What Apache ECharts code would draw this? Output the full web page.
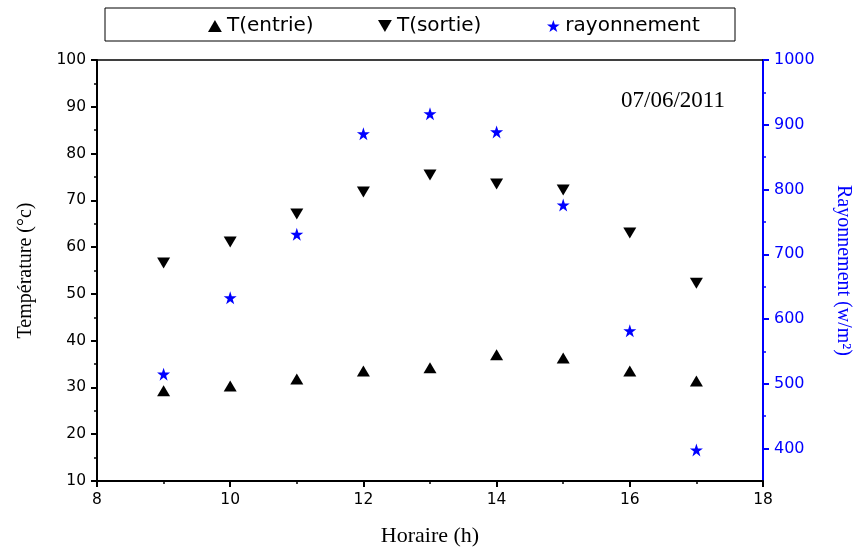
<!DOCTYPE html>
<html><head><meta charset="utf-8">
<script src="https://cdn.jsdelivr.net/npm/echarts@6/dist/echarts.min.js"></script>
<style>html,body{margin:0;padding:0;background:#fff}#c{width:857px;height:549px}</style>
</head><body><div id="c"></div>
<script>
var hours = [9, 10, 11, 12, 13, 14, 15, 16, 17];
var tEntrie = [29.3, 30.3, 31.8, 33.5, 34.2, 37.0, 36.3, 33.5, 31.4];
var tSortie = [56.6, 61.1, 67.1, 71.8, 75.4, 73.5, 72.2, 63.0, 52.3];
var rayonnement = [515, 633, 731, 886, 917, 889, 776, 582, 398];
var rightMajor = [400, 500, 600, 700, 800, 900, 1000];
var rightMinor = [450, 550, 650, 750, 850, 950];

function pairs(xs, ys){ return xs.map(function(x,i){ return [x, ys[i]]; }); }

var UP = 'path://M5,0 L10,8.66 L0,8.66 Z';
var DOWN = 'path://M0,0 L10,0 L5,8.66 Z';
var STAR = 'path://M50,0 L61.8,35.4 L99,35.4 L69,57.3 L80.4,92.7 L50,70.8 L19.6,92.7 L31,57.3 L1,35.4 L38.2,35.4 Z';

var chart = echarts.init(document.getElementById('c'));
var sans = 'DejaVu Sans, Liberation Sans, Arial';
var serif = 'Liberation Serif, Times New Roman';
var labelFont = {fontFamily: sans, fontSize: 15.5, color: '#000'};
var legendText = {fontFamily: sans, fontSize: 20, color: '#000'};
function leg(name, left){
  return {left: left, top: 11, itemWidth: 14, itemHeight: 12, textStyle: legendText, data: [name]};
}
chart.setOption({
  animation: false,
  grid: {left: 97, right: 94, top: 60, bottom: 68, show: false, containLabel: false, outerBoundsMode: 'none'},
  graphic: [{type: 'rect', shape: {x: 105, y: 8, width: 630, height: 33}, style: {fill: 'none', stroke: '#000', lineWidth: 1}}],
  legend: [leg('T(entrie)', 203), leg('T(sortie)', 373), leg('rayonnement', 542)],
  xAxis: [{
    type: 'value', min: 8, max: 18, interval: 2, position: 'bottom',
    name: 'Horaire (h)', nameLocation: 'middle', nameGap: 44,
    nameTextStyle: {fontFamily: serif, fontSize: 22, color: '#000'},
    axisLine: {show: true, lineStyle: {color: '#000', width: 2}},
    axisTick: {show: true, inside: false, length: 6, lineStyle: {color: '#000', width: 2}},
    minorTick: {show: true, splitNumber: 2, length: 3, lineStyle: {color: '#000', width: 1.5}},
    axisLabel: Object.assign({margin: 11}, labelFont),
    splitLine: {show: false}
  }, {
    type: 'value', min: 8, max: 18, position: 'top',
    axisLine: {show: true, onZero: false, lineStyle: {color: '#000', width: 1.5}},
    axisTick: {show: false}, axisLabel: {show: false}, splitLine: {show: false}
  }],
  yAxis: [{
    type: 'value', min: 10, max: 100, interval: 10, position: 'left',
    name: 'Température (°c)', nameLocation: 'middle', nameGap: 61, nameRotate: 90,
    nameTextStyle: {fontFamily: serif, fontSize: 20, color: '#000'},
    axisLine: {show: true, lineStyle: {color: '#000', width: 2}},
    axisTick: {show: true, inside: false, length: 6, lineStyle: {color: '#000', width: 2}},
    minorTick: {show: true, splitNumber: 2, length: 3, lineStyle: {color: '#000', width: 1.5}},
    axisLabel: Object.assign({margin: 11}, labelFont),
    splitLine: {show: false}
  }, {
    type: 'value', min: 350, max: 1000, interval: 50, position: 'right',
    name: 'Rayonnement (w/m²)', nameLocation: 'middle', nameGap: 70, nameRotate: -90,
    nameTextStyle: {fontFamily: serif, fontSize: 20, color: '#0000ff'},
    axisLine: {show: true, onZero: false, lineStyle: {color: '#0000ff', width: 2}},
    axisTick: {show: true, inside: false, length: 6, customValues: rightMajor, lineStyle: {color: '#0000ff', width: 2}},
    axisLabel: {margin: 11, customValues: rightMajor, fontFamily: sans, fontSize: 16, color: '#0000ff',
      formatter: function(v){ return String(v); }},
    splitLine: {show: false}
  }, {
    type: 'value', min: 350, max: 1000, interval: 50, position: 'right',
    axisLine: {show: false},
    axisTick: {show: true, inside: false, length: 3, customValues: rightMinor, lineStyle: {color: '#0000ff', width: 1.5}},
    axisLabel: {show: false}, splitLine: {show: false}
  }],
  series: [{
    name: 'T(entrie)', type: 'scatter', xAxisIndex: 0, yAxisIndex: 0,
    symbol: UP, symbolSize: [13, 11], itemStyle: {color: '#000', opacity: 1},
    data: pairs(hours, tEntrie)
  }, {
    name: 'T(sortie)', type: 'scatter', xAxisIndex: 0, yAxisIndex: 0,
    symbol: DOWN, symbolSize: [13, 11], itemStyle: {color: '#000', opacity: 1},
    data: pairs(hours, tSortie)
  }, {
    name: 'rayonnement', type: 'scatter', xAxisIndex: 0, yAxisIndex: 1,
    symbol: STAR, symbolSize: 13, itemStyle: {color: '#0000ff', opacity: 1},
    data: pairs(hours, rayonnement)
  }],
  title: {text: '07/06/2011', left: 616, top: 84,
    textStyle: {fontFamily: serif, fontSize: 23, fontWeight: 'normal', color: '#000'}}
});
</script></body></html>
